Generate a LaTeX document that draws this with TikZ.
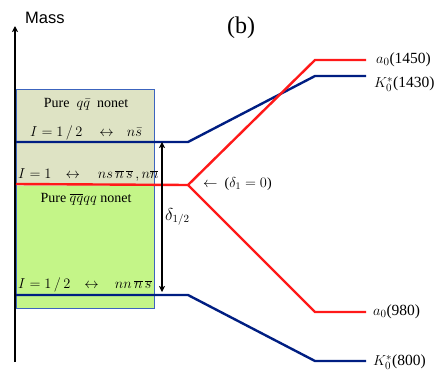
\documentclass[tikz,border=0pt]{standalone}
\usepackage{fontspec}
\setmainfont{Liberation Serif}
\newfontfamily\axisfont{Liberation Sans}
\usetikzlibrary{arrows.meta}
\definecolor{navyline}{RGB}{0,30,130}
\definecolor{redline}{RGB}{255,25,25}
\definecolor{beigefill}{RGB}{222,227,196}
\definecolor{greenfill}{RGB}{196,245,136}
\definecolor{boxedge}{RGB}{60,100,190}
\tikzset{
  lev/.style={line width=2.4pt,line join=miter},
  bluelev/.style={lev,navyline},
  redlev/.style={lev,redline},
  lbl/.style={inner sep=0pt,font=\fontsize{14}{16}\selectfont},
  statelbl/.style={inner sep=0pt,anchor=west,font=\fontsize{15.5}{17}\selectfont},
  tip/.tip={Stealth[length=6pt,width=6pt,inset=1.5pt]},
}
\begin{document}
\begin{tikzpicture}[x=1pt,y=-1pt]
\useasboundingbox (0,0) rectangle (436,375);
% boxes
\fill[beigefill] (16,89) rectangle (154,186);
\fill[greenfill] (16,186) rectangle (154,308);
\draw[boxedge,line width=0.8pt] (16,89) rectangle (154,308);
% axis
\coordinate (axb) at (15,362);
\coordinate (axt) at (15,26);
\draw[line width=1.6pt,-tip] (axb) -- (axt);
\node[anchor=west,inner sep=0pt,font=\axisfont\fontsize{16.5}{18}\selectfont] (mass) at (25,18) {Mass};
\node[inner sep=0pt,font=\fontsize{24}{26}\selectfont] (b) at (241,28) {(b)};
% box texts
\node[lbl] (t1) at (86,104) {Pure \ $q\bar{q}$ \ nonet};
\node[lbl,anchor=west] (t2) at (30,133) {$I=1\,/\,2$\hspace{17pt}$\leftrightarrow$\hspace{13pt}$n\bar{s}$};
\node[lbl,anchor=west] (t3) at (18,175) {$I=1$\hspace{14pt}$\leftrightarrow$\hspace{18pt}$ns\,\overline{n}\,\overline{s}\,,n\overline{n}$};
\node[lbl] (t4) at (86,199) {Pure $\overline{q}\overline{q}qq$ nonet};
\node[lbl,anchor=west] (t5) at (18,285) {$I=1\,/\,2$\hspace{14pt}$\leftrightarrow$\hspace{16pt}$nn\,\overline{n}\,\overline{s}$};
% level coordinates
\coordinate (u0) at (16,142);
\coordinate (u1) at (188,142);
\coordinate (u2) at (315,76);
\coordinate (u3) at (366,76);
\coordinate (r0) at (16,184);
\coordinate (r1) at (188,185);
\coordinate (r2) at (315,60);
\coordinate (r3) at (366,60);
\coordinate (r4) at (315,312);
\coordinate (r5) at (366,312);
\coordinate (l0) at (16,295);
\coordinate (l1) at (188,295);
\coordinate (l2) at (315,361);
\coordinate (l3) at (366,361);
\draw[bluelev] (u0) -- (u1) -- (u2) -- (u3);
\draw[redlev] (r0) -- (r1) -- (r2) -- (r3);
\draw[redlev] (r1) -- (r4) -- (r5);
\draw[bluelev] (l0) -- (l1) -- (l2) -- (l3);
% delta arrow
\coordinate (da) at (162,142);
\coordinate (db) at (162,292);
\draw[line width=1.4pt,tip-tip] (da) -- (db);
\node[lbl,anchor=west,font=\fontsize{16}{18}\selectfont] (dl) at (165,217) {$\delta_{1/2}$};
\node[lbl,anchor=west,font=\fontsize{14}{16}\selectfont] (d1) at (203,184) {$\leftarrow$ \ ($\delta_1=0$)};
% state labels
\node[statelbl] (s1) at (376,60) {$a_0$(1450)};
\node[statelbl] (s2) at (374,84) {$K_0^*$(1430)};
\node[statelbl] (s3) at (373,312) {$a_0$(980)};
\node[statelbl] (s4) at (373,362) {$K_0^*$(800)};
\end{tikzpicture}
\end{document}
